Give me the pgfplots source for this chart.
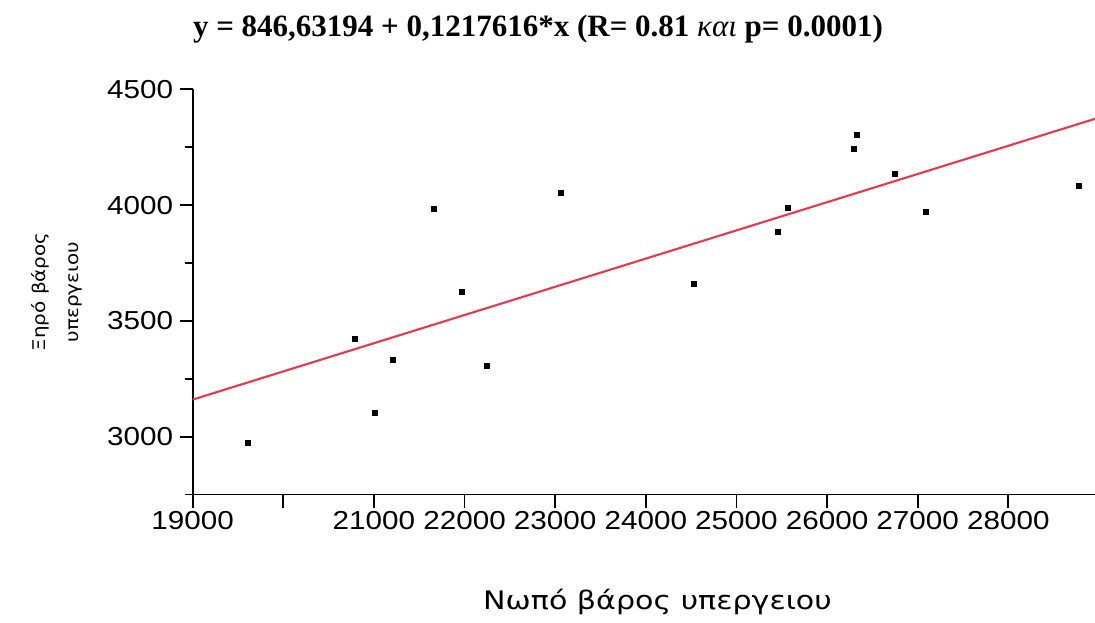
\documentclass[border=0pt]{standalone}
\usepackage{fontspec}
\usepackage{pgfplots}
\pgfplotsset{compat=1.18}
\setmainfont{Liberation Serif}
\newfontfamily\tickfont[FakeStretch=1.14]{Liberation Sans}
\newfontfamily\labfont[FakeStretch=1.18]{DejaVu Sans}
\newfontfamily\ylabfont[FakeStretch=1.14]{DejaVu Sans}
\definecolor{regred}{RGB}{235,55,75}

\pgfplotstableread{
x y
19602 2973
20783 3421
21008 3102
21207 3334
21655 3986
21964 3626
22248 3308
23064 4055
24524 3659
25455 3884
25566 3987
26298 4245
26327 4306
26747 4134
27084 3970
28773 4085
}\pts

\begin{document}
\begin{tikzpicture}
\useasboundingbox (0,0) rectangle (1095pt,623pt);
\begin{axis}[
  at={(192.7pt,128.4pt)}, anchor=south west,
  scale only axis, width=902.3pt, height=405.3pt,
  xmin=19000, xmax=28957, ymin=2750, ymax=4500,
  axis x line*=bottom, axis y line*=left,
  axis line style={line width=1.7pt,-,black},
  tick style={line width=1.7pt, black},
  tick align=outside,
  scaled x ticks=false, scaled y ticks=false,
  xtick={19000,20000,21000,22000,23000,24000,25000,26000,27000,28000},
  xticklabels={19000,{},21000,22000,23000,24000,25000,26000,27000,28000},
  ytick={3000,3500,4000,4500},
  minor ytick={2750,3250,3750,4250},
  major tick length=13pt, minor tick length=8pt,
  /pgf/number format/.cd, 1000 sep={}, assume math mode=true, /pgfplots/.cd,
  tick label style={font=\tickfont\fontsize{26}{26}\selectfont},
  yticklabel style={xshift=-3pt},
  clip=true,
]
\addplot[only marks, mark=square*, mark size=2.5pt, mark options={black, draw=black, fill=black}] table[x=x,y=y] {\pts};
\addplot[regred, line width=2.1pt] coordinates {(19000,3160.1) (28957,4372.5)};
\end{axis}
\node[anchor=base, font=\fontsize{31}{31}\selectfont\bfseries] at (538pt,586pt) {y = 846,63194 + 0,1217616*x (R= 0.81 {\mdseries\itshape και} p= 0.0001)};
\node[anchor=base, font=\labfont\fontsize{25.5}{25.5}\selectfont] at (657.5pt,13pt) {Νωπό βάρος υπεργειου};
\node[anchor=base, rotate=90, font=\ylabfont\fontsize{17.5}{17.5}\selectfont] at (45pt,331pt) {Ξηρό βάρος};
\node[anchor=base, rotate=90, font=\ylabfont\fontsize{17.5}{17.5}\selectfont] at (78pt,331pt) {υπεργειου};
\end{tikzpicture}
\end{document}
